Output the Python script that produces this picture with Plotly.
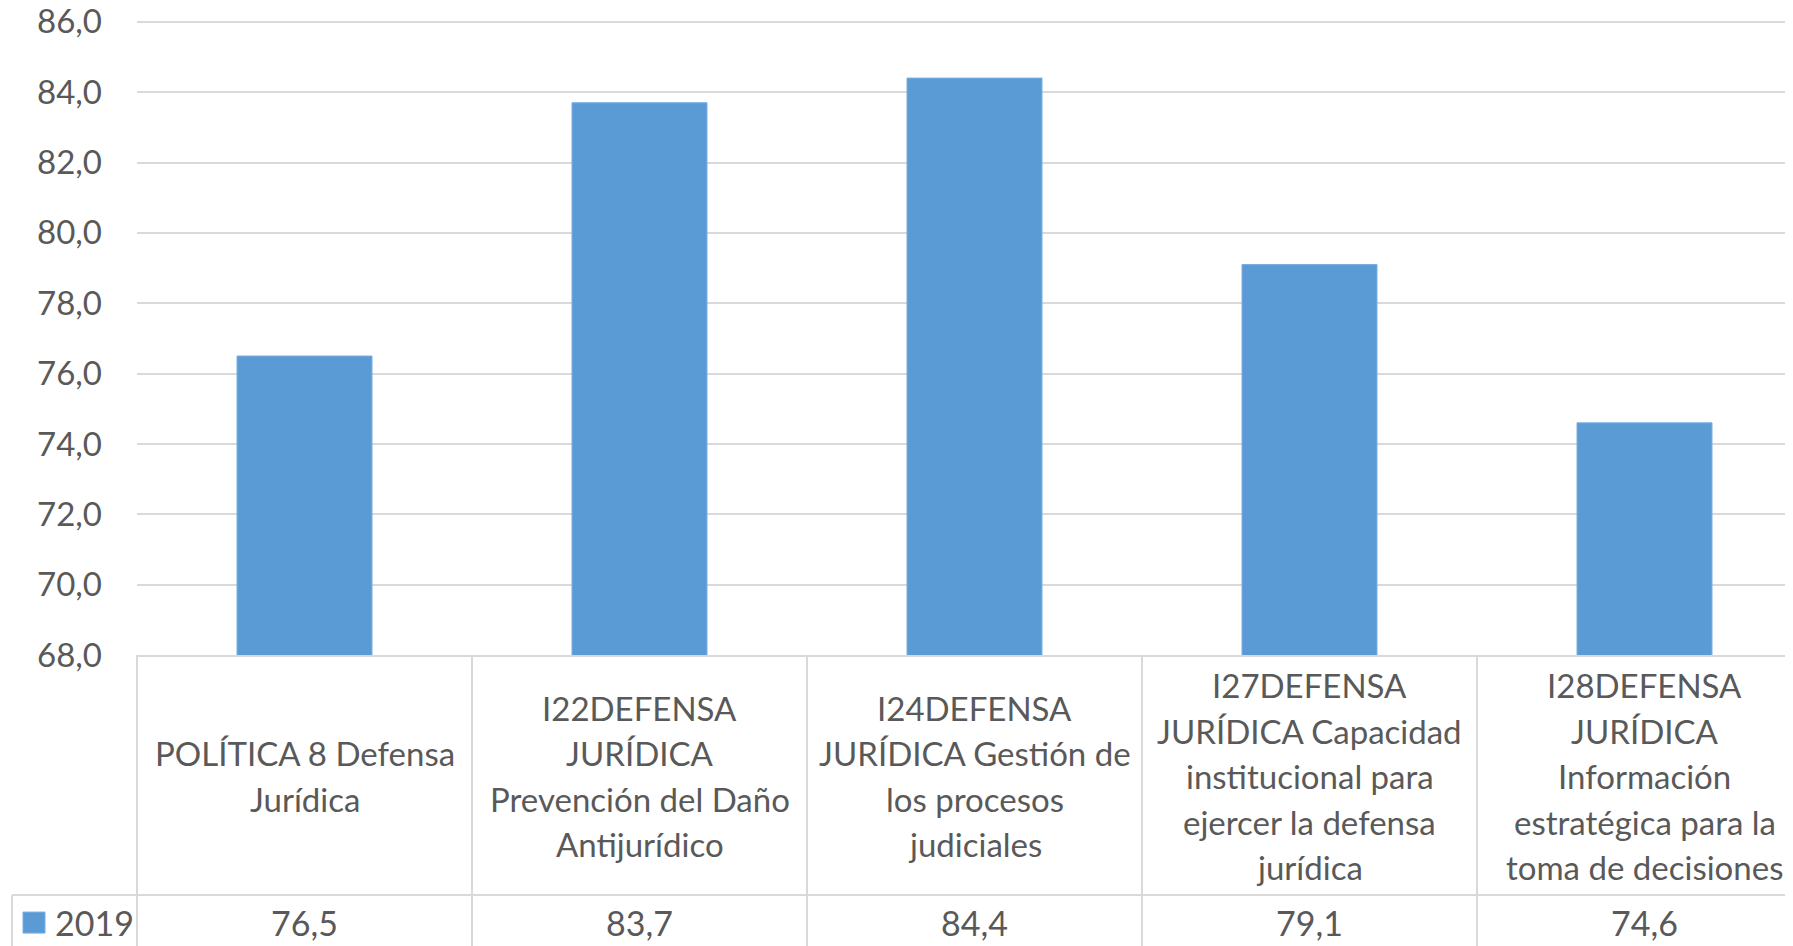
import plotly.graph_objects as go

categories = [
    "POLÍTICA 8 Defensa Jurídica",
    "I22DEFENSA JURÍDICA Prevención del Daño Antijurídico",
    "I24DEFENSA JURÍDICA Gestión de los procesos judiciales",
    "I27DEFENSA JURÍDICA Capacidad institucional para ejercer la defensa jurídica",
    "I28DEFENSA JURÍDICA Información estratégica para la toma de decisiones",
]
label_lines = [
    ["POLÍTICA 8 Defensa", "Jurídica"],
    ["I22DEFENSA", "JURÍDICA", "Prevención del Daño", "Antijurídico"],
    ["I24DEFENSA", "JURÍDICA Gestión de", "los procesos", "judiciales"],
    ["I27DEFENSA", "JURÍDICA Capacidad", "institucional para", "ejercer la defensa", "jurídica"],
    ["I28DEFENSA", "JURÍDICA", "Información", "estratégica para la", "toma de decisiones"],
]
series_name = "2019"
values = [76.5, 83.7, 84.4, 79.1, 74.6]
value_labels = ["76,5", "83,7", "84,4", "79,1", "74,6"]
y_ticks_min, y_ticks_max = 68, 86

OFF = 8                               # default page body margin
WIN_W, WIN_H = 1793, 946
W, H = WIN_W - OFF, WIN_H - OFF
GRID_TOP_WIN, B_WIN, L_WIN = 22, 655, 137
CAT_W = 335
px_per_unit = (B_WIN - GRID_TOP_WIN) / (y_ticks_max - y_ticks_min)
y_top = y_ticks_max + 0.08            # small headroom so top gridline is drawn
T_WIN = GRID_TOP_WIN - (y_top - y_ticks_max) * px_per_unit
L, T, B_PX = L_WIN - OFF, T_WIN - OFF, B_WIN - OFF
plot_w = WIN_W - L_WIN
plot_h = B_WIN - T_WIN
x_min = -0.5
x_max = x_min + plot_w / CAT_W

FONT = "Lato"
TXT = "#595959"
GRID = "#d9d9d9"
BLUE = "#5a9bd5"
EDGE = "#7aaee0"


def py(p):
    return (B_WIN - p) / plot_h


def px(p):
    return (p - L_WIN) / plot_w


def cx(v):
    return (v - x_min) / (x_max - x_min)


fig = go.Figure()
fig.add_trace(go.Bar(
    x=list(range(len(categories))), y=values, name=series_name,
    width=0.403,
    marker=dict(color=BLUE, line=dict(color=EDGE, width=1)),
    hovertext=categories, showlegend=False,
))

shapes = []
row_top = py(B_WIN)
row_mid = py(895)
row_bot = py(WIN_H + 10)
for i in range(len(categories)):
    xb = cx(i - 0.5)
    shapes.append(dict(type="line", xref="paper", yref="paper", x0=xb, x1=xb,
                       y0=row_top, y1=row_bot, line=dict(color=GRID, width=2)))
shapes.append(dict(type="line", xref="paper", yref="paper", x0=px(12), x1=1.05,
                   y0=row_mid, y1=row_mid, line=dict(color=GRID, width=2)))
shapes.append(dict(type="line", xref="paper", yref="paper", x0=px(12), x1=px(12),
                   y0=row_mid, y1=row_bot, line=dict(color=GRID, width=2)))
shapes.append(dict(type="rect", xref="paper", yref="paper", x0=px(23), x1=px(45),
                   y0=py(933), y1=py(912), fillcolor=BLUE, line=dict(color=EDGE, width=1)))

LINE_H = 45.5
annotations = []
for i, lines in enumerate(label_lines):
    n = len(lines)
    for k, line in enumerate(lines):
        yc = 776 + (k - (n - 1) / 2) * LINE_H
        annotations.append(dict(
            x=i, xref="x", y=py(yc), yref="paper", xanchor="center", yanchor="middle",
            text=line, showarrow=False,
            font=dict(family=FONT, size=33, color=TXT),
        ))
    annotations.append(dict(
        x=i, xref="x", y=py(922), yref="paper", xanchor="center", yanchor="middle",
        text=value_labels[i], showarrow=False,
        font=dict(family=FONT, size=34, color=TXT),
    ))
annotations.append(dict(
    x=px(53), xref="paper", y=py(922), yref="paper", xanchor="left", yanchor="middle",
    text=series_name, showarrow=False, font=dict(family=FONT, size=34, color=TXT),
))

fig.update_layout(
    width=W, height=H,
    margin=dict(l=L, r=W - L - plot_w, t=T, b=H - B_PX, pad=0, autoexpand=False),
    paper_bgcolor="white", plot_bgcolor="white",
    separators=",.",
    font=dict(family=FONT, size=33, color=TXT),
    xaxis=dict(range=[x_min, x_max], showticklabels=False, showgrid=False,
               zeroline=False, showline=True, linecolor=GRID, linewidth=2, ticks="",
               automargin=False),
    yaxis=dict(range=[y_ticks_min, y_top], dtick=2, tick0=y_ticks_min, tickformat=".1f",
               showgrid=True, gridcolor=GRID, gridwidth=2, zeroline=False,
               showline=False, ticks="", ticklabelstandoff=34,
               ticklabeloverflow="allow", automargin=False,
               tickfont=dict(family=FONT, size=33, color=TXT)),
    shapes=shapes, annotations=annotations,
    bargap=0.6,
)

fig.write_html("out.html")
